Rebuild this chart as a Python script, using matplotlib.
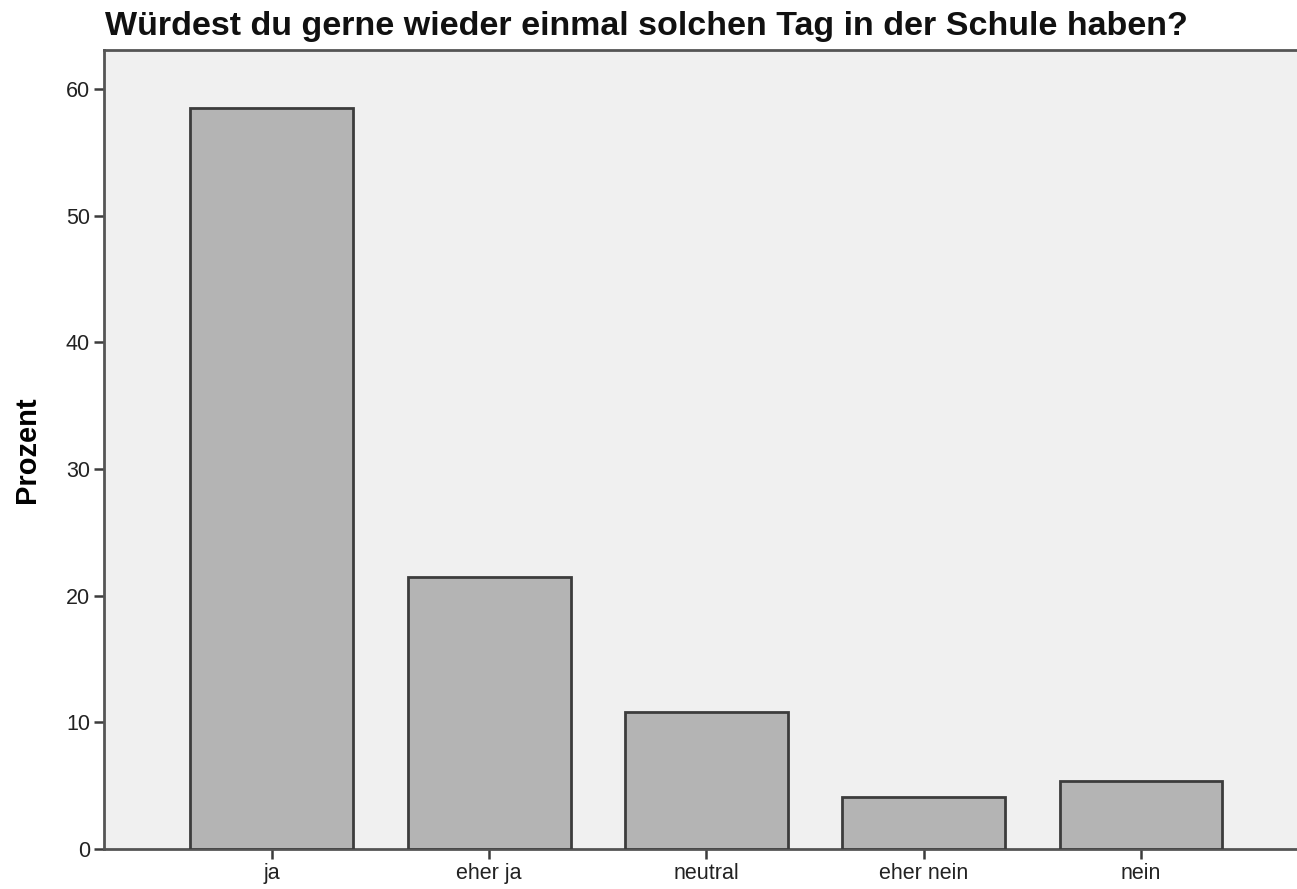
import matplotlib
matplotlib.use("Agg")
import matplotlib.pyplot as plt

categories = ["ja", "eher ja", "neutral", "eher nein", "nein"]
values = [58.5, 21.5, 10.8, 4.1, 5.4]
yticks = [0, 10, 20, 30, 40, 50, 60]

plt.rcParams['font.family'] = ['Liberation Sans', 'DejaVu Sans']

fig = plt.figure(figsize=(12.97, 8.89), dpi=100)
ax = fig.add_axes([104/1297, 1-849/889, 1-104/1297, (849-50)/889])
ax.set_facecolor('#f0f0f0')
x = list(range(len(categories)))
ax.bar(x, values, width=0.75, color='#b4b4b4', edgecolor='#3c3c3c', linewidth=2, zorder=3)
ax.set_xlim(-0.773, 4.718)
ax.set_ylim(0, 63.08)
ax.set_xticks(x)
ax.set_xticklabels(categories, fontsize=15.5, color='#222222')
ax.set_yticks(yticks)
ax.set_yticklabels([str(v) for v in yticks], fontsize=15.5, color='#222222')
ax.tick_params(axis='both', direction='out', length=7, width=1.8, color='#3c3c3c', pad=3)
for s in ax.spines.values():
    s.set_color('#555555')
    s.set_linewidth(2)
ax.spines['right'].set_visible(False)
ax.set_ylabel('Prozent', fontsize=21, fontweight='bold', labelpad=18)
fig.text(105/1297, 1-35/889, 'Würdest du gerne wieder einmal solchen Tag in der Schule haben?',
         fontsize=24.5, fontweight='bold', ha='left', va='baseline', color='#111111')
fig.savefig('out.png', dpi=100)
